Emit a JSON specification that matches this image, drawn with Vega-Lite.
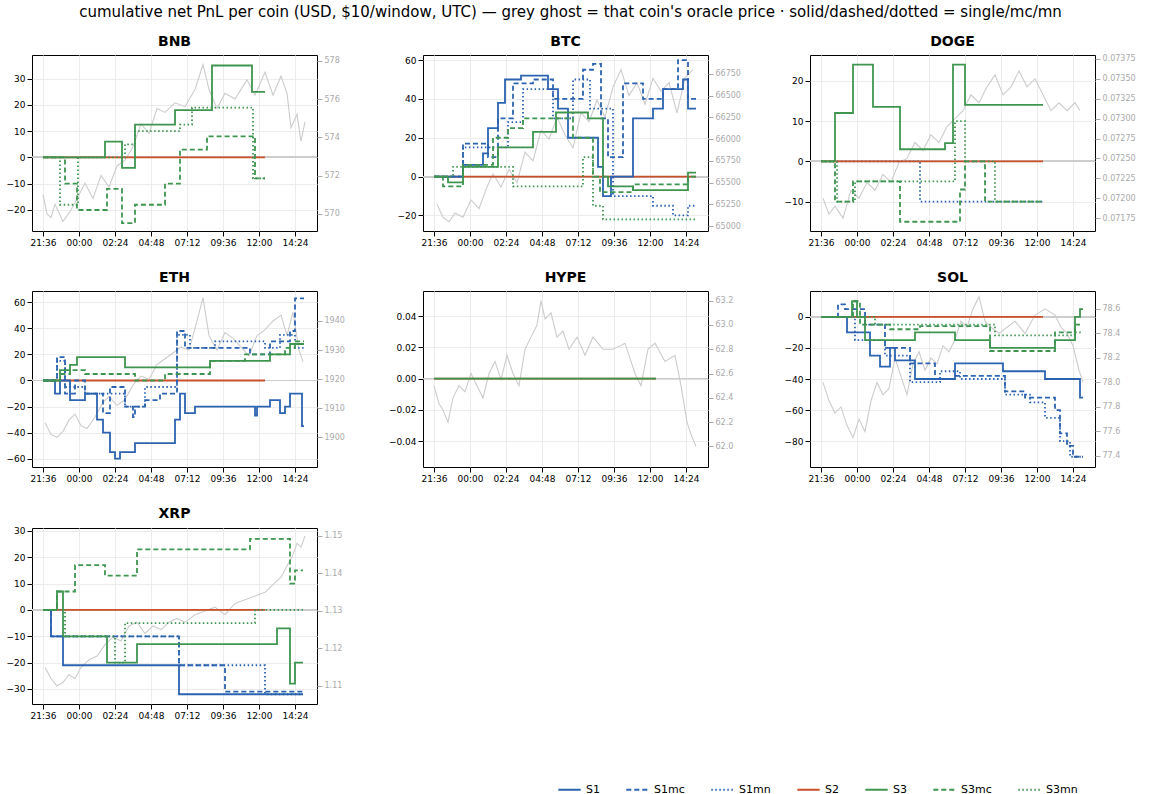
{
"$schema":"https://vega.github.io/schema/vega-lite/v6.json",
"title":{"text":"cumulative net PnL per coin (USD, $10/window, UTC) — grey ghost = that coin's oracle price · solid/dashed/dotted = single/mc/mn","fontSize":15,"fontWeight":"normal","anchor":"middle","offset":14},
"config":{"font":"DejaVu Sans","title":{"fontSize":14,"fontWeight":"bold","offset":6},"view":{"stroke":"black","strokeWidth":1},
"axis":{"labelFontSize":9,"labelColor":"black","tickColor":"black","domain":false,"gridColor":"#ececec","title":null,"labelOverlap":false},
"legend":{"orient":"none","legendX":525,"legendY":722,"direction":"horizontal","title":null,"labelFontSize":11,"symbolType":"stroke","symbolSize":500,"symbolStrokeWidth":2,"columnPadding":22}},
"spacing":{"row":22,"column":42},
"columns":3,
"datasets":{
"pnl":[
{"c":"BNB","s":"S2","t":0,"v":0},{"c":"BNB","s":"S2","t":888,"v":0},
{"c":"BNB","s":"S3","t":0,"v":0},{"c":"BNB","s":"S3","t":248,"v":6},{"c":"BNB","s":"S3","t":316,"v":-4},{"c":"BNB","s":"S3","t":368,"v":12.5},{"c":"BNB","s":"S3","t":528,"v":18},{"c":"BNB","s":"S3","t":676,"v":35},{"c":"BNB","s":"S3","t":836,"v":25},{"c":"BNB","s":"S3","t":888,"v":25},
{"c":"BNB","s":"S3mc","t":0,"v":0},{"c":"BNB","s":"S3mc","t":88,"v":-10},{"c":"BNB","s":"S3mc","t":136,"v":-20},{"c":"BNB","s":"S3mc","t":256,"v":-12},{"c":"BNB","s":"S3mc","t":316,"v":-25},{"c":"BNB","s":"S3mc","t":368,"v":-18},{"c":"BNB","s":"S3mc","t":488,"v":-10},{"c":"BNB","s":"S3mc","t":548,"v":3},{"c":"BNB","s":"S3mc","t":656,"v":8},{"c":"BNB","s":"S3mc","t":848,"v":-8},{"c":"BNB","s":"S3mc","t":888,"v":-8},
{"c":"BNB","s":"S3mn","t":0,"v":0},{"c":"BNB","s":"S3mn","t":68,"v":-18},{"c":"BNB","s":"S3mn","t":140,"v":0},{"c":"BNB","s":"S3mn","t":328,"v":5},{"c":"BNB","s":"S3mn","t":368,"v":10},{"c":"BNB","s":"S3mn","t":548,"v":12.5},{"c":"BNB","s":"S3mn","t":596,"v":19},{"c":"BNB","s":"S3mn","t":840,"v":-8},{"c":"BNB","s":"S3mn","t":888,"v":-8},

{"c":"BTC","s":"S2","t":0,"v":0},{"c":"BTC","s":"S2","t":1048,"v":0},
{"c":"BTC","s":"S1","t":0,"v":0},{"c":"BTC","s":"S1","t":116,"v":6},{"c":"BTC","s":"S1","t":196,"v":12},{"c":"BTC","s":"S1","t":216,"v":25},{"c":"BTC","s":"S1","t":256,"v":38},{"c":"BTC","s":"S1","t":284,"v":50},{"c":"BTC","s":"S1","t":348,"v":52},{"c":"BTC","s":"S1","t":456,"v":45},{"c":"BTC","s":"S1","t":496,"v":35},{"c":"BTC","s":"S1","t":536,"v":20},{"c":"BTC","s":"S1","t":656,"v":5},{"c":"BTC","s":"S1","t":676,"v":-10},{"c":"BTC","s":"S1","t":708,"v":0},{"c":"BTC","s":"S1","t":796,"v":30},{"c":"BTC","s":"S1","t":876,"v":35},{"c":"BTC","s":"S1","t":916,"v":45},{"c":"BTC","s":"S1","t":996,"v":50},{"c":"BTC","s":"S1","t":1016,"v":35},{"c":"BTC","s":"S1","t":1048,"v":35},
{"c":"BTC","s":"S1mc","t":0,"v":0},{"c":"BTC","s":"S1mc","t":116,"v":17},{"c":"BTC","s":"S1mc","t":216,"v":10},{"c":"BTC","s":"S1mc","t":256,"v":30},{"c":"BTC","s":"S1mc","t":316,"v":48},{"c":"BTC","s":"S1mc","t":396,"v":50},{"c":"BTC","s":"S1mc","t":476,"v":40},{"c":"BTC","s":"S1mc","t":596,"v":55},{"c":"BTC","s":"S1mc","t":636,"v":58},{"c":"BTC","s":"S1mc","t":668,"v":30},{"c":"BTC","s":"S1mc","t":696,"v":10},{"c":"BTC","s":"S1mc","t":756,"v":48},{"c":"BTC","s":"S1mc","t":836,"v":40},{"c":"BTC","s":"S1mc","t":916,"v":45},{"c":"BTC","s":"S1mc","t":976,"v":60},{"c":"BTC","s":"S1mc","t":1016,"v":40},{"c":"BTC","s":"S1mc","t":1048,"v":40},
{"c":"BTC","s":"S1mn","t":0,"v":0},{"c":"BTC","s":"S1mn","t":116,"v":15},{"c":"BTC","s":"S1mn","t":296,"v":28},{"c":"BTC","s":"S1mn","t":356,"v":45},{"c":"BTC","s":"S1mn","t":476,"v":30},{"c":"BTC","s":"S1mn","t":556,"v":50},{"c":"BTC","s":"S1mn","t":624,"v":35},{"c":"BTC","s":"S1mn","t":716,"v":-10},{"c":"BTC","s":"S1mn","t":876,"v":-15},{"c":"BTC","s":"S1mn","t":956,"v":-20},{"c":"BTC","s":"S1mn","t":1016,"v":-15},{"c":"BTC","s":"S1mn","t":1048,"v":-15},
{"c":"BTC","s":"S3","t":0,"v":0},{"c":"BTC","s":"S3","t":56,"v":-3},{"c":"BTC","s":"S3","t":116,"v":5},{"c":"BTC","s":"S3","t":256,"v":15},{"c":"BTC","s":"S3","t":396,"v":23},{"c":"BTC","s":"S3","t":488,"v":33},{"c":"BTC","s":"S3","t":616,"v":30},{"c":"BTC","s":"S3","t":676,"v":0},{"c":"BTC","s":"S3","t":696,"v":-5},{"c":"BTC","s":"S3","t":796,"v":-7},{"c":"BTC","s":"S3","t":1016,"v":2},{"c":"BTC","s":"S3","t":1048,"v":2},
{"c":"BTC","s":"S3mc","t":0,"v":0},{"c":"BTC","s":"S3mc","t":36,"v":-5},{"c":"BTC","s":"S3mc","t":116,"v":6},{"c":"BTC","s":"S3mc","t":236,"v":20},{"c":"BTC","s":"S3mc","t":296,"v":25},{"c":"BTC","s":"S3mc","t":356,"v":30},{"c":"BTC","s":"S3mc","t":556,"v":20},{"c":"BTC","s":"S3mc","t":636,"v":0},{"c":"BTC","s":"S3mc","t":664,"v":-8},{"c":"BTC","s":"S3mc","t":796,"v":-4},{"c":"BTC","s":"S3mc","t":1016,"v":0},{"c":"BTC","s":"S3mc","t":1048,"v":0},
{"c":"BTC","s":"S3mn","t":0,"v":0},{"c":"BTC","s":"S3mn","t":76,"v":5},{"c":"BTC","s":"S3mn","t":316,"v":-5},{"c":"BTC","s":"S3mn","t":596,"v":10},{"c":"BTC","s":"S3mn","t":636,"v":-15},{"c":"BTC","s":"S3mn","t":676,"v":-22},{"c":"BTC","s":"S3mn","t":1048,"v":-22},

{"c":"DOGE","s":"S1mn","t":0,"v":0},{"c":"DOGE","s":"S1mn","t":396,"v":-10},{"c":"DOGE","s":"S1mn","t":888,"v":-10},
{"c":"DOGE","s":"S2","t":0,"v":0},{"c":"DOGE","s":"S2","t":888,"v":0},
{"c":"DOGE","s":"S3","t":0,"v":0},{"c":"DOGE","s":"S3","t":56,"v":12},{"c":"DOGE","s":"S3","t":128,"v":24},{"c":"DOGE","s":"S3","t":208,"v":13.5},{"c":"DOGE","s":"S3","t":316,"v":3},{"c":"DOGE","s":"S3","t":496,"v":4.5},{"c":"DOGE","s":"S3","t":528,"v":24},{"c":"DOGE","s":"S3","t":576,"v":14},{"c":"DOGE","s":"S3","t":888,"v":14},
{"c":"DOGE","s":"S3mc","t":0,"v":0},{"c":"DOGE","s":"S3mc","t":56,"v":-10},{"c":"DOGE","s":"S3mc","t":128,"v":-5},{"c":"DOGE","s":"S3mc","t":316,"v":-15},{"c":"DOGE","s":"S3mc","t":556,"v":-7},{"c":"DOGE","s":"S3mc","t":576,"v":0},{"c":"DOGE","s":"S3mc","t":656,"v":-10},{"c":"DOGE","s":"S3mc","t":888,"v":-10},
{"c":"DOGE","s":"S3mn","t":0,"v":0},{"c":"DOGE","s":"S3mn","t":64,"v":-10},{"c":"DOGE","s":"S3mn","t":136,"v":-5},{"c":"DOGE","s":"S3mn","t":536,"v":10},{"c":"DOGE","s":"S3mn","t":576,"v":0},{"c":"DOGE","s":"S3mn","t":696,"v":-10},{"c":"DOGE","s":"S3mn","t":888,"v":-10},

{"c":"ETH","s":"S2","t":0,"v":0},{"c":"ETH","s":"S2","t":888,"v":0},
{"c":"ETH","s":"S1","t":0,"v":0},{"c":"ETH","s":"S1","t":48,"v":-10},{"c":"ETH","s":"S1","t":68,"v":0},{"c":"ETH","s":"S1","t":108,"v":-15},{"c":"ETH","s":"S1","t":168,"v":-10},{"c":"ETH","s":"S1","t":216,"v":-30},{"c":"ETH","s":"S1","t":240,"v":-40},{"c":"ETH","s":"S1","t":268,"v":-55},{"c":"ETH","s":"S1","t":288,"v":-60},{"c":"ETH","s":"S1","t":308,"v":-55},{"c":"ETH","s":"S1","t":368,"v":-48},{"c":"ETH","s":"S1","t":528,"v":-30},{"c":"ETH","s":"S1","t":548,"v":-10},{"c":"ETH","s":"S1","t":568,"v":-25},{"c":"ETH","s":"S1","t":608,"v":-20},{"c":"ETH","s":"S1","t":848,"v":-27},{"c":"ETH","s":"S1","t":856,"v":-20},{"c":"ETH","s":"S1","t":908,"v":-15},{"c":"ETH","s":"S1","t":948,"v":-25},{"c":"ETH","s":"S1","t":968,"v":-20},{"c":"ETH","s":"S1","t":988,"v":-10},{"c":"ETH","s":"S1","t":1036,"v":-35},{"c":"ETH","s":"S1","t":1044,"v":-35},
{"c":"ETH","s":"S1mc","t":0,"v":0},{"c":"ETH","s":"S1mc","t":56,"v":18},{"c":"ETH","s":"S1mc","t":88,"v":-10},{"c":"ETH","s":"S1mc","t":128,"v":0},{"c":"ETH","s":"S1mc","t":168,"v":-10},{"c":"ETH","s":"S1mc","t":240,"v":-25},{"c":"ETH","s":"S1mc","t":268,"v":-5},{"c":"ETH","s":"S1mc","t":328,"v":-20},{"c":"ETH","s":"S1mc","t":360,"v":-28},{"c":"ETH","s":"S1mc","t":368,"v":-20},{"c":"ETH","s":"S1mc","t":408,"v":-15},{"c":"ETH","s":"S1mc","t":468,"v":-10},{"c":"ETH","s":"S1mc","t":536,"v":38},{"c":"ETH","s":"S1mc","t":568,"v":25},{"c":"ETH","s":"S1mc","t":828,"v":20},{"c":"ETH","s":"S1mc","t":908,"v":30},{"c":"ETH","s":"S1mc","t":988,"v":38},{"c":"ETH","s":"S1mc","t":1008,"v":63},{"c":"ETH","s":"S1mc","t":1044,"v":63},
{"c":"ETH","s":"S1mn","t":0,"v":0},{"c":"ETH","s":"S1mn","t":56,"v":15},{"c":"ETH","s":"S1mn","t":88,"v":-5},{"c":"ETH","s":"S1mn","t":168,"v":-10},{"c":"ETH","s":"S1mn","t":328,"v":-20},{"c":"ETH","s":"S1mn","t":408,"v":-5},{"c":"ETH","s":"S1mn","t":536,"v":35},{"c":"ETH","s":"S1mn","t":588,"v":25},{"c":"ETH","s":"S1mn","t":688,"v":30},{"c":"ETH","s":"S1mn","t":888,"v":25},{"c":"ETH","s":"S1mn","t":948,"v":35},{"c":"ETH","s":"S1mn","t":1008,"v":25},{"c":"ETH","s":"S1mn","t":1044,"v":25},
{"c":"ETH","s":"S3","t":0,"v":0},{"c":"ETH","s":"S3","t":68,"v":8},{"c":"ETH","s":"S3","t":108,"v":12},{"c":"ETH","s":"S3","t":136,"v":18},{"c":"ETH","s":"S3","t":328,"v":10},{"c":"ETH","s":"S3","t":668,"v":15},{"c":"ETH","s":"S3","t":908,"v":20},{"c":"ETH","s":"S3","t":988,"v":28},{"c":"ETH","s":"S3","t":1044,"v":28},
{"c":"ETH","s":"S3mc","t":0,"v":0},{"c":"ETH","s":"S3mc","t":68,"v":5},{"c":"ETH","s":"S3mc","t":108,"v":8},{"c":"ETH","s":"S3mc","t":168,"v":5},{"c":"ETH","s":"S3mc","t":368,"v":0},{"c":"ETH","s":"S3mc","t":488,"v":5},{"c":"ETH","s":"S3mc","t":668,"v":15},{"c":"ETH","s":"S3mc","t":808,"v":20},{"c":"ETH","s":"S3mc","t":968,"v":25},{"c":"ETH","s":"S3mc","t":1008,"v":30},{"c":"ETH","s":"S3mc","t":1044,"v":30},

{"c":"HYPE","s":"S2","t":0,"v":0},{"c":"HYPE","s":"S2","t":888,"v":0},
{"c":"HYPE","s":"S3","t":0,"v":0},{"c":"HYPE","s":"S3","t":888,"v":0},

{"c":"SOL","s":"S2","t":0,"v":0},{"c":"SOL","s":"S2","t":888,"v":0},
{"c":"SOL","s":"S1","t":0,"v":0},{"c":"SOL","s":"S1","t":104,"v":-10},{"c":"SOL","s":"S1","t":196,"v":-25},{"c":"SOL","s":"S1","t":236,"v":-32},{"c":"SOL","s":"S1","t":276,"v":-20},{"c":"SOL","s":"S1","t":296,"v":-28},{"c":"SOL","s":"S1","t":376,"v":-40},{"c":"SOL","s":"S1","t":536,"v":-30},{"c":"SOL","s":"S1","t":728,"v":-35},{"c":"SOL","s":"S1","t":896,"v":-40},{"c":"SOL","s":"S1","t":1036,"v":-52},{"c":"SOL","s":"S1","t":1048,"v":-52},
{"c":"SOL","s":"S1mc","t":0,"v":0},{"c":"SOL","s":"S1mc","t":68,"v":8},{"c":"SOL","s":"S1mc","t":96,"v":5},{"c":"SOL","s":"S1mc","t":176,"v":-5},{"c":"SOL","s":"S1mc","t":256,"v":-20},{"c":"SOL","s":"S1mc","t":356,"v":-30},{"c":"SOL","s":"S1mc","t":456,"v":-40},{"c":"SOL","s":"S1mc","t":536,"v":-38},{"c":"SOL","s":"S1mc","t":736,"v":-48},{"c":"SOL","s":"S1mc","t":816,"v":-52},{"c":"SOL","s":"S1mc","t":936,"v":-60},{"c":"SOL","s":"S1mc","t":956,"v":-75},{"c":"SOL","s":"S1mc","t":984,"v":-83},{"c":"SOL","s":"S1mc","t":1008,"v":-90},{"c":"SOL","s":"S1mc","t":1048,"v":-90},
{"c":"SOL","s":"S1mn","t":0,"v":0},{"c":"SOL","s":"S1mn","t":136,"v":-15},{"c":"SOL","s":"S1mn","t":256,"v":-25},{"c":"SOL","s":"S1mn","t":356,"v":-42},{"c":"SOL","s":"S1mn","t":476,"v":-35},{"c":"SOL","s":"S1mn","t":556,"v":-40},{"c":"SOL","s":"S1mn","t":736,"v":-50},{"c":"SOL","s":"S1mn","t":836,"v":-55},{"c":"SOL","s":"S1mn","t":896,"v":-65},{"c":"SOL","s":"S1mn","t":956,"v":-80},{"c":"SOL","s":"S1mn","t":996,"v":-90},{"c":"SOL","s":"S1mn","t":1048,"v":-90},
{"c":"SOL","s":"S3","t":0,"v":0},{"c":"SOL","s":"S3","t":124,"v":10},{"c":"SOL","s":"S3","t":144,"v":0},{"c":"SOL","s":"S3","t":176,"v":-15},{"c":"SOL","s":"S3","t":376,"v":-10},{"c":"SOL","s":"S3","t":536,"v":-15},{"c":"SOL","s":"S3","t":676,"v":-20},{"c":"SOL","s":"S3","t":936,"v":-15},{"c":"SOL","s":"S3","t":1016,"v":0},{"c":"SOL","s":"S3","t":1036,"v":5},{"c":"SOL","s":"S3","t":1048,"v":5},
{"c":"SOL","s":"S3mc","t":0,"v":0},{"c":"SOL","s":"S3mc","t":128,"v":10},{"c":"SOL","s":"S3mc","t":156,"v":-5},{"c":"SOL","s":"S3mc","t":276,"v":-8},{"c":"SOL","s":"S3mc","t":396,"v":-6},{"c":"SOL","s":"S3mc","t":676,"v":-22},{"c":"SOL","s":"S3mc","t":936,"v":-10},{"c":"SOL","s":"S3mc","t":1016,"v":-5},{"c":"SOL","s":"S3mc","t":1048,"v":-5},
{"c":"SOL","s":"S3mn","t":0,"v":0},{"c":"SOL","s":"S3mn","t":216,"v":-5},{"c":"SOL","s":"S3mn","t":696,"v":-12},{"c":"SOL","s":"S3mn","t":1016,"v":-10},{"c":"SOL","s":"S3mn","t":1048,"v":-10},

{"c":"XRP","s":"S2","t":0,"v":0},{"c":"XRP","s":"S2","t":888,"v":0},
{"c":"XRP","s":"S1","t":0,"v":0},{"c":"XRP","s":"S1","t":32,"v":-10},{"c":"XRP","s":"S1","t":80,"v":-21},{"c":"XRP","s":"S1","t":544,"v":-32},{"c":"XRP","s":"S1","t":1040,"v":-32},
{"c":"XRP","s":"S1mc","t":0,"v":0},{"c":"XRP","s":"S1mc","t":32,"v":-10},{"c":"XRP","s":"S1mc","t":544,"v":-21},{"c":"XRP","s":"S1mc","t":728,"v":-31},{"c":"XRP","s":"S1mc","t":1040,"v":-31},
{"c":"XRP","s":"S1mn","t":0,"v":0},{"c":"XRP","s":"S1mn","t":32,"v":-10},{"c":"XRP","s":"S1mn","t":544,"v":-21},{"c":"XRP","s":"S1mn","t":888,"v":-32},{"c":"XRP","s":"S1mn","t":1040,"v":-32},
{"c":"XRP","s":"S3","t":0,"v":0},{"c":"XRP","s":"S3","t":56,"v":7},{"c":"XRP","s":"S3","t":80,"v":-10},{"c":"XRP","s":"S3","t":256,"v":-20},{"c":"XRP","s":"S3","t":376,"v":-13},{"c":"XRP","s":"S3","t":936,"v":-7},{"c":"XRP","s":"S3","t":988,"v":-28},{"c":"XRP","s":"S3","t":1008,"v":-20},{"c":"XRP","s":"S3","t":1040,"v":-20},
{"c":"XRP","s":"S3mc","t":0,"v":0},{"c":"XRP","s":"S3mc","t":56,"v":7},{"c":"XRP","s":"S3mc","t":128,"v":17},{"c":"XRP","s":"S3mc","t":248,"v":13},{"c":"XRP","s":"S3mc","t":376,"v":23},{"c":"XRP","s":"S3mc","t":828,"v":27},{"c":"XRP","s":"S3mc","t":988,"v":10},{"c":"XRP","s":"S3mc","t":1008,"v":15},{"c":"XRP","s":"S3mc","t":1040,"v":15},
{"c":"XRP","s":"S3mn","t":0,"v":0},{"c":"XRP","s":"S3mn","t":88,"v":-10},{"c":"XRP","s":"S3mn","t":288,"v":-20},{"c":"XRP","s":"S3mn","t":328,"v":-5},{"c":"XRP","s":"S3mn","t":848,"v":0},{"c":"XRP","s":"S3mn","t":1040,"v":0}
],
"price":[
{"c":"BNB","t":0,"p":571},{"c":"BNB","t":16,"p":570},{"c":"BNB","t":32,"p":569.8},{"c":"BNB","t":48,"p":570.5},{"c":"BNB","t":80,"p":569.6},{"c":"BNB","t":112,"p":570.2},{"c":"BNB","t":144,"p":571},{"c":"BNB","t":168,"p":571.6},{"c":"BNB","t":200,"p":570.8},{"c":"BNB","t":232,"p":572},{"c":"BNB","t":264,"p":571.4},{"c":"BNB","t":296,"p":572.5},{"c":"BNB","t":328,"p":572.8},{"c":"BNB","t":360,"p":573.5},{"c":"BNB","t":392,"p":574.7},{"c":"BNB","t":424,"p":574.2},{"c":"BNB","t":456,"p":575.5},{"c":"BNB","t":488,"p":575.3},{"c":"BNB","t":528,"p":575.8},{"c":"BNB","t":568,"p":575.6},{"c":"BNB","t":608,"p":576.5},{"c":"BNB","t":640,"p":577.8},{"c":"BNB","t":664,"p":576.5},{"c":"BNB","t":696,"p":575.5},{"c":"BNB","t":728,"p":576.3},{"c":"BNB","t":768,"p":576},{"c":"BNB","t":816,"p":577},{"c":"BNB","t":848,"p":576.2},{"c":"BNB","t":888,"p":577.4},{"c":"BNB","t":920,"p":576.2},{"c":"BNB","t":952,"p":577.2},{"c":"BNB","t":976,"p":576.3},{"c":"BNB","t":992,"p":574.5},{"c":"BNB","t":1016,"p":575.2},{"c":"BNB","t":1032,"p":573.8},{"c":"BNB","t":1048,"p":574.8},
{"c":"BTC","t":12,"p":65250},{"c":"BTC","t":36,"p":65100},{"c":"BTC","t":60,"p":65050},{"c":"BTC","t":84,"p":65150},{"c":"BTC","t":116,"p":65100},{"c":"BTC","t":148,"p":65300},{"c":"BTC","t":180,"p":65200},{"c":"BTC","t":212,"p":65450},{"c":"BTC","t":236,"p":65600},{"c":"BTC","t":268,"p":65450},{"c":"BTC","t":300,"p":65650},{"c":"BTC","t":332,"p":65500},{"c":"BTC","t":364,"p":65850},{"c":"BTC","t":396,"p":65750},{"c":"BTC","t":428,"p":66100},{"c":"BTC","t":460,"p":66000},{"c":"BTC","t":492,"p":66250},{"c":"BTC","t":524,"p":66050},{"c":"BTC","t":556,"p":65900},{"c":"BTC","t":588,"p":66300},{"c":"BTC","t":620,"p":66200},{"c":"BTC","t":652,"p":66450},{"c":"BTC","t":684,"p":66250},{"c":"BTC","t":716,"p":66600},{"c":"BTC","t":748,"p":66800},{"c":"BTC","t":780,"p":66500},{"c":"BTC","t":812,"p":66650},{"c":"BTC","t":844,"p":66400},{"c":"BTC","t":876,"p":66700},{"c":"BTC","t":908,"p":66550},{"c":"BTC","t":940,"p":66650},{"c":"BTC","t":972,"p":66300},{"c":"BTC","t":1004,"p":66700},{"c":"BTC","t":1036,"p":66800},
{"c":"DOGE","t":8,"p":0.0720},{"c":"DOGE","t":32,"p":0.0718},{"c":"DOGE","t":56,"p":0.0719},{"c":"DOGE","t":88,"p":0.07175},{"c":"DOGE","t":120,"p":0.0721},{"c":"DOGE","t":152,"p":0.0720},{"c":"DOGE","t":184,"p":0.0722},{"c":"DOGE","t":216,"p":0.0721},{"c":"DOGE","t":248,"p":0.0723},{"c":"DOGE","t":280,"p":0.0722},{"c":"DOGE","t":312,"p":0.07245},{"c":"DOGE","t":344,"p":0.0725},{"c":"DOGE","t":376,"p":0.0727},{"c":"DOGE","t":408,"p":0.0726},{"c":"DOGE","t":440,"p":0.0728},{"c":"DOGE","t":472,"p":0.0727},{"c":"DOGE","t":504,"p":0.0729},{"c":"DOGE","t":536,"p":0.0730},{"c":"DOGE","t":568,"p":0.0731},{"c":"DOGE","t":600,"p":0.0733},{"c":"DOGE","t":632,"p":0.0732},{"c":"DOGE","t":664,"p":0.0734},{"c":"DOGE","t":696,"p":0.07355},{"c":"DOGE","t":728,"p":0.0733},{"c":"DOGE","t":760,"p":0.0734},{"c":"DOGE","t":792,"p":0.0736},{"c":"DOGE","t":824,"p":0.0734},{"c":"DOGE","t":856,"p":0.0735},{"c":"DOGE","t":888,"p":0.0733},{"c":"DOGE","t":920,"p":0.0731},{"c":"DOGE","t":952,"p":0.0732},{"c":"DOGE","t":984,"p":0.0731},{"c":"DOGE","t":1016,"p":0.0732},{"c":"DOGE","t":1036,"p":0.0731},
{"c":"ETH","t":8,"p":1905},{"c":"ETH","t":32,"p":1901},{"c":"ETH","t":56,"p":1900},{"c":"ETH","t":80,"p":1902},{"c":"ETH","t":104,"p":1906},{"c":"ETH","t":128,"p":1908},{"c":"ETH","t":152,"p":1904},{"c":"ETH","t":176,"p":1903},{"c":"ETH","t":208,"p":1907},{"c":"ETH","t":240,"p":1912},{"c":"ETH","t":264,"p":1914},{"c":"ETH","t":296,"p":1911},{"c":"ETH","t":328,"p":1913},{"c":"ETH","t":360,"p":1918},{"c":"ETH","t":392,"p":1921},{"c":"ETH","t":424,"p":1920},{"c":"ETH","t":456,"p":1925},{"c":"ETH","t":488,"p":1927},{"c":"ETH","t":520,"p":1929},{"c":"ETH","t":552,"p":1931},{"c":"ETH","t":584,"p":1930},{"c":"ETH","t":616,"p":1940},{"c":"ETH","t":640,"p":1948},{"c":"ETH","t":664,"p":1935},{"c":"ETH","t":696,"p":1930},{"c":"ETH","t":728,"p":1936},{"c":"ETH","t":760,"p":1934},{"c":"ETH","t":792,"p":1931},{"c":"ETH","t":824,"p":1928},{"c":"ETH","t":856,"p":1935},{"c":"ETH","t":888,"p":1937},{"c":"ETH","t":920,"p":1940},{"c":"ETH","t":952,"p":1942},{"c":"ETH","t":976,"p":1935},{"c":"ETH","t":1000,"p":1943},{"c":"ETH","t":1024,"p":1930},{"c":"ETH","t":1040,"p":1926},
{"c":"HYPE","t":0,"p":62.5},{"c":"HYPE","t":20,"p":62.35},{"c":"HYPE","t":36,"p":62.3},{"c":"HYPE","t":56,"p":62.2},{"c":"HYPE","t":76,"p":62.4},{"c":"HYPE","t":100,"p":62.5},{"c":"HYPE","t":124,"p":62.45},{"c":"HYPE","t":148,"p":62.6},{"c":"HYPE","t":172,"p":62.5},{"c":"HYPE","t":196,"p":62.4},{"c":"HYPE","t":220,"p":62.6},{"c":"HYPE","t":244,"p":62.7},{"c":"HYPE","t":268,"p":62.55},{"c":"HYPE","t":292,"p":62.75},{"c":"HYPE","t":316,"p":62.6},{"c":"HYPE","t":340,"p":62.5},{"c":"HYPE","t":364,"p":62.8},{"c":"HYPE","t":388,"p":62.9},{"c":"HYPE","t":412,"p":63.0},{"c":"HYPE","t":428,"p":63.2},{"c":"HYPE","t":444,"p":63.05},{"c":"HYPE","t":468,"p":63.1},{"c":"HYPE","t":492,"p":62.9},{"c":"HYPE","t":516,"p":62.95},{"c":"HYPE","t":540,"p":62.8},{"c":"HYPE","t":572,"p":62.9},{"c":"HYPE","t":604,"p":62.75},{"c":"HYPE","t":636,"p":62.9},{"c":"HYPE","t":676,"p":62.8},{"c":"HYPE","t":716,"p":62.8},{"c":"HYPE","t":764,"p":62.85},{"c":"HYPE","t":804,"p":62.6},{"c":"HYPE","t":828,"p":62.5},{"c":"HYPE","t":856,"p":62.8},{"c":"HYPE","t":884,"p":62.85},{"c":"HYPE","t":924,"p":62.7},{"c":"HYPE","t":964,"p":62.75},{"c":"HYPE","t":988,"p":62.5},{"c":"HYPE","t":1012,"p":62.2},{"c":"HYPE","t":1028,"p":62.1},{"c":"HYPE","t":1048,"p":62.0},
{"c":"SOL","t":8,"p":78.0},{"c":"SOL","t":32,"p":77.85},{"c":"SOL","t":56,"p":77.75},{"c":"SOL","t":80,"p":77.8},{"c":"SOL","t":104,"p":77.65},{"c":"SOL","t":128,"p":77.55},{"c":"SOL","t":152,"p":77.7},{"c":"SOL","t":176,"p":77.6},{"c":"SOL","t":200,"p":77.85},{"c":"SOL","t":224,"p":78.0},{"c":"SOL","t":248,"p":77.9},{"c":"SOL","t":272,"p":77.95},{"c":"SOL","t":296,"p":78.2},{"c":"SOL","t":320,"p":78.05},{"c":"SOL","t":344,"p":77.9},{"c":"SOL","t":368,"p":78.15},{"c":"SOL","t":392,"p":78.25},{"c":"SOL","t":416,"p":78.1},{"c":"SOL","t":440,"p":78.2},{"c":"SOL","t":464,"p":78.15},{"c":"SOL","t":488,"p":78.3},{"c":"SOL","t":512,"p":78.25},{"c":"SOL","t":536,"p":78.35},{"c":"SOL","t":560,"p":78.5},{"c":"SOL","t":584,"p":78.45},{"c":"SOL","t":608,"p":78.6},{"c":"SOL","t":632,"p":78.7},{"c":"SOL","t":656,"p":78.5},{"c":"SOL","t":680,"p":78.45},{"c":"SOL","t":712,"p":78.4},{"c":"SOL","t":744,"p":78.45},{"c":"SOL","t":776,"p":78.5},{"c":"SOL","t":816,"p":78.4},{"c":"SOL","t":856,"p":78.55},{"c":"SOL","t":896,"p":78.6},{"c":"SOL","t":936,"p":78.55},{"c":"SOL","t":960,"p":78.45},{"c":"SOL","t":984,"p":78.4},{"c":"SOL","t":1008,"p":78.3},{"c":"SOL","t":1032,"p":78.1},{"c":"SOL","t":1048,"p":78.0},
{"c":"XRP","t":8,"p":1.115},{"c":"XRP","t":32,"p":1.112},{"c":"XRP","t":56,"p":1.110},{"c":"XRP","t":80,"p":1.111},{"c":"XRP","t":104,"p":1.113},{"c":"XRP","t":128,"p":1.112},{"c":"XRP","t":152,"p":1.115},{"c":"XRP","t":184,"p":1.117},{"c":"XRP","t":216,"p":1.118},{"c":"XRP","t":248,"p":1.121},{"c":"XRP","t":280,"p":1.123},{"c":"XRP","t":312,"p":1.122},{"c":"XRP","t":344,"p":1.126},{"c":"XRP","t":376,"p":1.127},{"c":"XRP","t":408,"p":1.124},{"c":"XRP","t":440,"p":1.126},{"c":"XRP","t":472,"p":1.125},{"c":"XRP","t":504,"p":1.127},{"c":"XRP","t":536,"p":1.128},{"c":"XRP","t":568,"p":1.127},{"c":"XRP","t":608,"p":1.129},{"c":"XRP","t":648,"p":1.130},{"c":"XRP","t":688,"p":1.131},{"c":"XRP","t":728,"p":1.129},{"c":"XRP","t":768,"p":1.132},{"c":"XRP","t":808,"p":1.133},{"c":"XRP","t":848,"p":1.134},{"c":"XRP","t":888,"p":1.135},{"c":"XRP","t":920,"p":1.137},{"c":"XRP","t":952,"p":1.139},{"c":"XRP","t":976,"p":1.142},{"c":"XRP","t":1000,"p":1.145},{"c":"XRP","t":1016,"p":1.148},{"c":"XRP","t":1032,"p":1.147},{"c":"XRP","t":1048,"p":1.150}
]},
"concat":[
{"title":"BNB","width":285,"height":176,"resolve":{"scale":{"y":"independent"}},"layer":[
 {"data":{"name":"price"},"transform":[{"filter":"datum.c=='BNB'"}],"mark":{"type":"line","color":"#cccccc","strokeWidth":1.1},
  "encoding":{"x":{"field":"t","type":"quantitative","scale":{"domain":[-44,1096],"nice":false,"zero":false},"axis":{"values":[0,144,288,432,576,720,864,1008],"labelExpr":"timeFormat(datetime(2024,0,1,21,36+datum.value),'%H:%M')","grid":true,"labelFontSize":9}},
  "y":{"field":"p","type":"quantitative","scale":{"domain":[569.1,578.3],"nice":false,"zero":false},"axis":{"orient":"right","grid":false,"format":"d","values":[570,572,574,576,578],"labelColor":"#aaaaaa","tickColor":"#aaaaaa","labelFontSize":8}}}},
 {"data":{"name":"pnl"},"transform":[{"filter":"datum.c=='BNB'"}],"layer":[
  {"mark":{"type":"rule","color":"#cccccc","strokeWidth":1},"encoding":{"y":{"datum":0,"type":"quantitative","axis":{"values":[-20,-10,0,10,20,30],"grid":true}}}},
  {"mark":{"type":"line","interpolate":"step-after","strokeWidth":1.8},"encoding":{
   "x":{"field":"t","type":"quantitative"},
   "y":{"field":"v","type":"quantitative","scale":{"domain":[-28,39],"nice":false,"zero":false},"axis":{"values":[-20,-10,0,10,20,30],"grid":true}},
   "color":{"field":"s","type":"nominal","scale":{"domain":["S1","S1mc","S1mn","S2","S3","S3mc","S3mn"],"range":["#2b63b0","#2b63b0","#2b63b0","#c8502a","#3e9550","#3e9550","#3e9550"]}},
   "strokeDash":{"field":"s","type":"nominal","scale":{"domain":["S1","S1mc","S1mn","S2","S3","S3mc","S3mn"],"range":[[1,0],[5,3],[1.5,2.5],[1,0],[1,0],[5,3],[1.5,2.5]]}}}}]}]},
{"title":"BTC","width":285,"height":176,"resolve":{"scale":{"y":"independent"}},"layer":[
 {"data":{"name":"price"},"transform":[{"filter":"datum.c=='BTC'"}],"mark":{"type":"line","color":"#cccccc","strokeWidth":1.1},
  "encoding":{"x":{"field":"t","type":"quantitative","scale":{"domain":[-44,1096],"nice":false,"zero":false},"axis":{"values":[0,144,288,432,576,720,864,1008],"labelExpr":"timeFormat(datetime(2024,0,1,21,36+datum.value),'%H:%M')","grid":true,"labelFontSize":9}},
  "y":{"field":"p","type":"quantitative","scale":{"domain":[64943,66967],"nice":false,"zero":false},"axis":{"orient":"right","grid":false,"format":"d","values":[65000,65250,65500,65750,66000,66250,66500,66750],"labelColor":"#aaaaaa","tickColor":"#aaaaaa","labelFontSize":8}}}},
 {"data":{"name":"pnl"},"transform":[{"filter":"datum.c=='BTC'"}],"layer":[
  {"mark":{"type":"rule","color":"#cccccc","strokeWidth":1},"encoding":{"y":{"datum":0,"type":"quantitative","axis":{"values":[-20,0,20,40,60],"grid":true}}}},
  {"mark":{"type":"line","interpolate":"step-after","strokeWidth":1.8},"encoding":{
   "x":{"field":"t","type":"quantitative"},
   "y":{"field":"v","type":"quantitative","scale":{"domain":[-28,62.6],"nice":false,"zero":false},"axis":{"values":[-20,0,20,40,60],"grid":true}},
   "color":{"field":"s","type":"nominal","scale":{"domain":["S1","S1mc","S1mn","S2","S3","S3mc","S3mn"],"range":["#2b63b0","#2b63b0","#2b63b0","#c8502a","#3e9550","#3e9550","#3e9550"]}},
   "strokeDash":{"field":"s","type":"nominal","scale":{"domain":["S1","S1mc","S1mn","S2","S3","S3mc","S3mn"],"range":[[1,0],[5,3],[1.5,2.5],[1,0],[1,0],[5,3],[1.5,2.5]]}}}}]}]},
{"title":"DOGE","width":285,"height":176,"resolve":{"scale":{"y":"independent"}},"layer":[
 {"data":{"name":"price"},"transform":[{"filter":"datum.c=='DOGE'"}],"mark":{"type":"line","color":"#cccccc","strokeWidth":1.1},
  "encoding":{"x":{"field":"t","type":"quantitative","scale":{"domain":[-44,1096],"nice":false,"zero":false},"axis":{"values":[0,144,288,432,576,720,864,1008],"labelExpr":"timeFormat(datetime(2024,0,1,21,36+datum.value),'%H:%M')","grid":true,"labelFontSize":9}},
  "y":{"field":"p","type":"quantitative","scale":{"domain":[0.071588,0.0738],"nice":false,"zero":false},"axis":{"orient":"right","grid":false,"format":".5f","values":[0.07175,0.072,0.07225,0.0725,0.07275,0.073,0.07325,0.0735,0.07375],"labelColor":"#aaaaaa","tickColor":"#aaaaaa","labelFontSize":8}}}},
 {"data":{"name":"pnl"},"transform":[{"filter":"datum.c=='DOGE'"}],"layer":[
  {"mark":{"type":"rule","color":"#cccccc","strokeWidth":1},"encoding":{"y":{"datum":0,"type":"quantitative","axis":{"values":[-10,0,10,20],"grid":true}}}},
  {"mark":{"type":"line","interpolate":"step-after","strokeWidth":1.8},"encoding":{
   "x":{"field":"t","type":"quantitative"},
   "y":{"field":"v","type":"quantitative","scale":{"domain":[-17.3,26.4],"nice":false,"zero":false},"axis":{"values":[-10,0,10,20],"grid":true}},
   "color":{"field":"s","type":"nominal","scale":{"domain":["S1","S1mc","S1mn","S2","S3","S3mc","S3mn"],"range":["#2b63b0","#2b63b0","#2b63b0","#c8502a","#3e9550","#3e9550","#3e9550"]}},
   "strokeDash":{"field":"s","type":"nominal","scale":{"domain":["S1","S1mc","S1mn","S2","S3","S3mc","S3mn"],"range":[[1,0],[5,3],[1.5,2.5],[1,0],[1,0],[5,3],[1.5,2.5]]}}}}]}]},
{"title":"ETH","width":285,"height":176,"resolve":{"scale":{"y":"independent"}},"layer":[
 {"data":{"name":"price"},"transform":[{"filter":"datum.c=='ETH'"}],"mark":{"type":"line","color":"#cccccc","strokeWidth":1.1},
  "encoding":{"x":{"field":"t","type":"quantitative","scale":{"domain":[-44,1096],"nice":false,"zero":false},"axis":{"values":[0,144,288,432,576,720,864,1008],"labelExpr":"timeFormat(datetime(2024,0,1,21,36+datum.value),'%H:%M')","grid":true,"labelFontSize":9}},
  "y":{"field":"p","type":"quantitative","scale":{"domain":[1889.8,1950.3],"nice":false,"zero":false},"axis":{"orient":"right","grid":false,"format":"d","values":[1900,1910,1920,1930,1940],"labelColor":"#aaaaaa","tickColor":"#aaaaaa","labelFontSize":8}}}},
 {"data":{"name":"pnl"},"transform":[{"filter":"datum.c=='ETH'"}],"layer":[
  {"mark":{"type":"rule","color":"#cccccc","strokeWidth":1},"encoding":{"y":{"datum":0,"type":"quantitative","axis":{"values":[-60,-40,-20,0,20,40,60],"grid":true}}}},
  {"mark":{"type":"line","interpolate":"step-after","strokeWidth":1.8},"encoding":{
   "x":{"field":"t","type":"quantitative"},
   "y":{"field":"v","type":"quantitative","scale":{"domain":[-66.4,68.7],"nice":false,"zero":false},"axis":{"values":[-60,-40,-20,0,20,40,60],"grid":true}},
   "color":{"field":"s","type":"nominal","scale":{"domain":["S1","S1mc","S1mn","S2","S3","S3mc","S3mn"],"range":["#2b63b0","#2b63b0","#2b63b0","#c8502a","#3e9550","#3e9550","#3e9550"]}},
   "strokeDash":{"field":"s","type":"nominal","scale":{"domain":["S1","S1mc","S1mn","S2","S3","S3mc","S3mn"],"range":[[1,0],[5,3],[1.5,2.5],[1,0],[1,0],[5,3],[1.5,2.5]]}}}}]}]},
{"title":"HYPE","width":285,"height":176,"resolve":{"scale":{"y":"independent"}},"layer":[
 {"data":{"name":"price"},"transform":[{"filter":"datum.c=='HYPE'"}],"mark":{"type":"line","color":"#cccccc","strokeWidth":1.1},
  "encoding":{"x":{"field":"t","type":"quantitative","scale":{"domain":[-44,1096],"nice":false,"zero":false},"axis":{"values":[0,144,288,432,576,720,864,1008],"labelExpr":"timeFormat(datetime(2024,0,1,21,36+datum.value),'%H:%M')","grid":true,"labelFontSize":9}},
  "y":{"field":"p","type":"quantitative","scale":{"domain":[61.83,63.28],"nice":false,"zero":false},"axis":{"orient":"right","grid":false,"format":".1f","values":[62.0,62.2,62.4,62.6,62.8,63.0,63.2],"labelColor":"#aaaaaa","tickColor":"#aaaaaa","labelFontSize":8}}}},
 {"data":{"name":"pnl"},"transform":[{"filter":"datum.c=='HYPE'"}],"layer":[
  {"mark":{"type":"rule","color":"#cccccc","strokeWidth":1},"encoding":{"y":{"datum":0,"type":"quantitative","axis":{"values":[-0.04,-0.02,0,0.02,0.04],"format":".2f","grid":true}}}},
  {"mark":{"type":"line","interpolate":"step-after","strokeWidth":1.8},"encoding":{
   "x":{"field":"t","type":"quantitative"},
   "y":{"field":"v","type":"quantitative","scale":{"domain":[-0.0565,0.056],"nice":false,"zero":false},"axis":{"values":[-0.04,-0.02,0,0.02,0.04],"format":".2f","grid":true}},
   "color":{"field":"s","type":"nominal","scale":{"domain":["S1","S1mc","S1mn","S2","S3","S3mc","S3mn"],"range":["#2b63b0","#2b63b0","#2b63b0","#c8502a","#3e9550","#3e9550","#3e9550"]}},
   "strokeDash":{"field":"s","type":"nominal","scale":{"domain":["S1","S1mc","S1mn","S2","S3","S3mc","S3mn"],"range":[[1,0],[5,3],[1.5,2.5],[1,0],[1,0],[5,3],[1.5,2.5]]}}}}]}]},
{"title":"SOL","width":285,"height":176,"resolve":{"scale":{"y":"independent"}},"layer":[
 {"data":{"name":"price"},"transform":[{"filter":"datum.c=='SOL'"}],"mark":{"type":"line","color":"#cccccc","strokeWidth":1.1},
  "encoding":{"x":{"field":"t","type":"quantitative","scale":{"domain":[-44,1096],"nice":false,"zero":false},"axis":{"values":[0,144,288,432,576,720,864,1008],"labelExpr":"timeFormat(datetime(2024,0,1,21,36+datum.value),'%H:%M')","grid":true,"labelFontSize":9}},
  "y":{"field":"p","type":"quantitative","scale":{"domain":[77.31,78.746],"nice":false,"zero":false},"axis":{"orient":"right","grid":false,"format":".1f","values":[77.4,77.6,77.8,78.0,78.2,78.4,78.6],"labelColor":"#aaaaaa","tickColor":"#aaaaaa","labelFontSize":8}}}},
 {"data":{"name":"pnl"},"transform":[{"filter":"datum.c=='SOL'"}],"layer":[
  {"mark":{"type":"rule","color":"#cccccc","strokeWidth":1},"encoding":{"y":{"datum":0,"type":"quantitative","axis":{"values":[-80,-60,-40,-20,0],"grid":true}}}},
  {"mark":{"type":"line","interpolate":"step-after","strokeWidth":1.8},"encoding":{
   "x":{"field":"t","type":"quantitative"},
   "y":{"field":"v","type":"quantitative","scale":{"domain":[-96.6,16.6],"nice":false,"zero":false},"axis":{"values":[-80,-60,-40,-20,0],"grid":true}},
   "color":{"field":"s","type":"nominal","scale":{"domain":["S1","S1mc","S1mn","S2","S3","S3mc","S3mn"],"range":["#2b63b0","#2b63b0","#2b63b0","#c8502a","#3e9550","#3e9550","#3e9550"]}},
   "strokeDash":{"field":"s","type":"nominal","scale":{"domain":["S1","S1mc","S1mn","S2","S3","S3mc","S3mn"],"range":[[1,0],[5,3],[1.5,2.5],[1,0],[1,0],[5,3],[1.5,2.5]]}}}}]}]},
{"title":"XRP","width":285,"height":176,"resolve":{"scale":{"y":"independent"}},"layer":[
 {"data":{"name":"price"},"transform":[{"filter":"datum.c=='XRP'"}],"mark":{"type":"line","color":"#cccccc","strokeWidth":1.1},
  "encoding":{"x":{"field":"t","type":"quantitative","scale":{"domain":[-44,1096],"nice":false,"zero":false},"axis":{"values":[0,144,288,432,576,720,864,1008],"labelExpr":"timeFormat(datetime(2024,0,1,21,36+datum.value),'%H:%M')","grid":true,"labelFontSize":9}},
  "y":{"field":"p","type":"quantitative","scale":{"domain":[1.1052,1.1521],"nice":false,"zero":false},"axis":{"orient":"right","grid":false,"format":".2f","values":[1.11,1.12,1.13,1.14,1.15],"labelColor":"#aaaaaa","tickColor":"#aaaaaa","labelFontSize":8}}}},
 {"data":{"name":"pnl"},"transform":[{"filter":"datum.c=='XRP'"}],"layer":[
  {"mark":{"type":"rule","color":"#cccccc","strokeWidth":1},"encoding":{"y":{"datum":0,"type":"quantitative","axis":{"values":[-30,-20,-10,0,10,20,30],"grid":true}}}},
  {"mark":{"type":"line","interpolate":"step-after","strokeWidth":1.8},"encoding":{
   "x":{"field":"t","type":"quantitative"},
   "y":{"field":"v","type":"quantitative","scale":{"domain":[-35.7,31.1],"nice":false,"zero":false},"axis":{"values":[-30,-20,-10,0,10,20,30],"grid":true}},
   "color":{"field":"s","type":"nominal","scale":{"domain":["S1","S1mc","S1mn","S2","S3","S3mc","S3mn"],"range":["#2b63b0","#2b63b0","#2b63b0","#c8502a","#3e9550","#3e9550","#3e9550"]}},
   "strokeDash":{"field":"s","type":"nominal","scale":{"domain":["S1","S1mc","S1mn","S2","S3","S3mc","S3mn"],"range":[[1,0],[5,3],[1.5,2.5],[1,0],[1,0],[5,3],[1.5,2.5]]}}}}]}]}
]
}
